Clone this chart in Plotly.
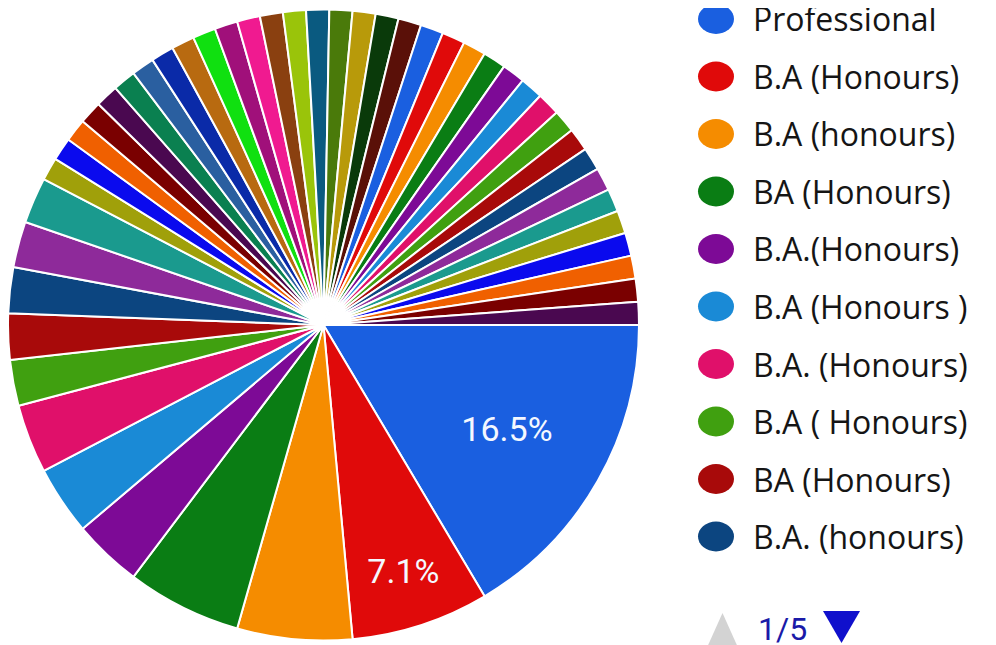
import plotly.graph_objects as go

# ---- data -------------------------------------------------------------
shown_labels = [
    "Professional", "B.A (Honours)", "B.A (honours)", "BA (Honours)",
    "B.A.(Honours)", "B.A (Honours )", "B.A. (Honours)", "B.A ( Honours)",
    "BA (Honours) ", "B.A. (honours)",
]
# answers on legend pages 2-5 are not visible in the picture
hidden_labels = [
    "Answer 11", "Answer 12", "Answer 13", "Answer 14", "Answer 15", "Answer 16",
    "Answer 17", "Answer 18", "Answer 19", "Answer 20", "Answer 21", "Answer 22",
    "Answer 23", "Answer 24", "Answer 25", "Answer 26", "Answer 27", "Answer 28",
    "Answer 29", "Answer 30", "Answer 31", "Answer 32", "Answer 33", "Answer 34",
    "Answer 35", "Answer 36", "Answer 37", "Answer 38", "Answer 39", "Answer 40",
    "Answer 41", "Answer 42", "Answer 43", "Answer 44", "Answer 45", "Answer 46",
    "Answer 47", "Answer 48",
]
labels = shown_labels + hidden_labels

counts = [
    14, 6, 5, 5, 3, 3, 3, 2, 2, 2, 2, 2,
    1, 1, 1, 1, 1, 1, 1, 1, 1, 1, 1, 1,
    1, 1, 1, 1, 1, 1, 1, 1, 1, 1, 1, 1,
    1, 1, 1, 1, 1, 1, 1, 1, 1, 1, 1, 1,
]
labelled_slices = 2          # only the two biggest slices carry a % label
page_text = "1/5"

# ---- styles -----------------------------------------------------------
palette = [
    "#1a5fe0", "#e00a0a", "#f58c00", "#0a7d14", "#7d0a96", "#1a8ad6",
    "#e0106a", "#40a010", "#a80a0a", "#0c4580", "#8e2a9a", "#1a9a8e",
    "#a0a00a", "#0a0aee", "#f06000", "#7a0000", "#4a0850", "#0a8050",
    "#2a5fa0", "#0a2aa8", "#b86a10", "#10e010", "#a0107a", "#f01a90",
    "#8a4010", "#9ac40a", "#0a5a80", "#4a7a0a", "#b89a0a", "#0a3a0a",
    "#5a1008",
]
colors = [palette[i % len(palette)] for i in range(len(counts))]
texttemplates = ["%{percent:.1%}" if i < labelled_slices else "" for i in range(len(counts))]

W, H = 996, 645
OFF = 8   # page body margin: screen pixel = figure pixel + OFF
FONT = "Roboto, 'Open Sans', sans-serif"
LEG_FONT = "'Open Sans', Roboto, sans-serif"


def px(x):
    return (x - OFF) / W


def py(y):
    return 1 - (y - OFF) / H


fig = go.Figure(go.Pie(
    labels=labels,
    values=counts,
    sort=False,
    direction="clockwise",
    rotation=90,
    marker=dict(colors=colors, line=dict(color="white", width=2)),
    texttemplate=texttemplates,
    textposition="inside",
    insidetextorientation="horizontal",
    insidetextfont=dict(color="#f4f8ff", size=34, family=FONT),
    domain=dict(x=[0, 631 / W], y=[12.5 / H, 643.5 / H]),
    showlegend=False,
    automargin=False,
))

# ---- legend page (first 10 answers) ------------------------------------
row0, step = 19, 57.5
cx, rx, ry = 716, 18, 15
text_x = 751
for i, lab in enumerate(shown_labels):
    cy = row0 + i * step
    fig.add_shape(type="circle", xref="paper", yref="paper",
                  x0=px(cx - rx), x1=px(cx + rx),
                  y0=py(cy + ry), y1=py(cy - ry),
                  fillcolor=colors[i], line=dict(width=0))
    fig.add_annotation(x=px(text_x), y=py(cy), xref="paper", yref="paper",
                       text=lab, showarrow=False, xanchor="left", yanchor="middle",
                       font=dict(size=32, color="#151515", family=LEG_FONT))

# pager
fig.add_shape(type="path", xref="paper", yref="paper",
              path=f"M {px(705)} {py(652)} L {px(740)} {py(652)} L {px(722.5)} {py(613)} Z",
              fillcolor="#d3d3d3", line=dict(width=0))
fig.add_shape(type="path", xref="paper", yref="paper",
              path=f"M {px(823)} {py(611)} L {px(860)} {py(611)} L {px(841.5)} {py(643)} Z",
              fillcolor="#1010cc", line=dict(width=0))
fig.add_annotation(x=px(782), y=py(629), xref="paper", yref="paper",
                   text=page_text, showarrow=False, xanchor="center", yanchor="middle",
                   font=dict(size=32, color="#1a1aa8", family=FONT))

fig.update_layout(
    width=W, height=H,
    margin=dict(l=0, r=0, t=0, b=0),
    paper_bgcolor="white", plot_bgcolor="white",
)
fig.write_html("out.html")
